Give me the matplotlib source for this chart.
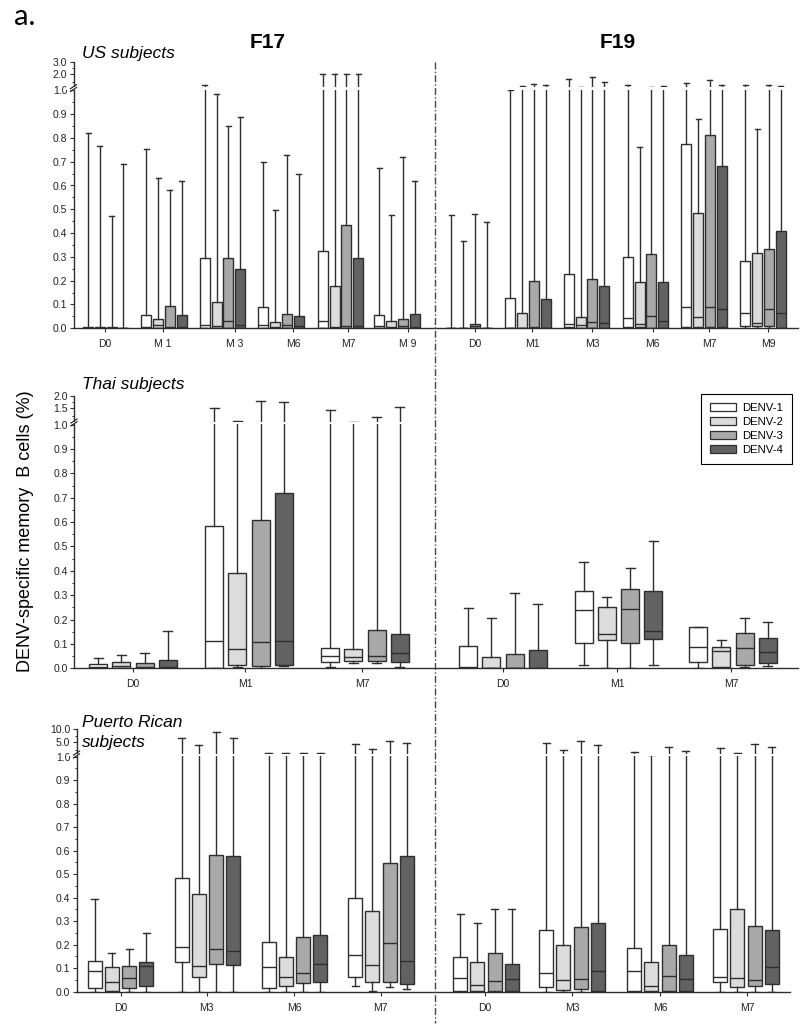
import numpy as np
import matplotlib
matplotlib.use('Agg')
import matplotlib.pyplot as plt
from matplotlib.patches import Patch
from matplotlib.lines import Line2D

plt.rcParams['font.family'] = ['Liberation Sans', 'DejaVu Sans']

FIG_W, FIG_H = 800, 1026
EDGE = '#2e2e2e'

series = ['DENV-1', 'DENV-2', 'DENV-3', 'DENV-4']
colors = ['#ffffff', '#dcdcdc', '#a9a9a9', '#626262']

# ---------------- US subjects ----------------
us_f17_labels = ['D0', 'M 1', 'M 3', 'M6', 'M7', 'M 9']
us_f17_hi = [[0.82, 0.765, 0.47, 0.69], [0.753, 0.63, 0.58, 0.62], [1.3, 0.983, 0.85, 0.887],
             [0.697, 0.497, 0.728, 0.648], [2.0, 2.0, 2.0, 2.0], [0.675, 0.478, 0.721, 0.62]]
us_f17_q3 = [[0.005, 0.004, 0.005, 0.003], [0.054, 0.039, 0.094, 0.054], [0.294, 0.112, 0.297, 0.249],
             [0.088, 0.027, 0.061, 0.052], [0.325, 0.179, 0.434, 0.295], [0.054, 0.029, 0.039, 0.060]]
us_f17_med = [[0.002, 0.002, 0.002, 0.001], [0.004, 0.013, 0.005, 0.005], [0.015, 0.010, 0.029, 0.012],
              [0.015, 0.004, 0.012, 0.010], [0.029, 0.005, 0.010, 0.010], [0.010, 0.004, 0.010, 0.005]]
us_f17_q1 = [[0.001] * 4, [0.001] * 4, [0.002] * 4, [0.002] * 4, [0.002] * 4, [0.002] * 4]
us_f17_lo = [[0.0] * 4 for _ in range(6)]

us_f19_labels = ['D0', 'M1', 'M3', 'M6', 'M7', 'M9']
us_f19_hi = [[0.476, 0.368, 0.48, 0.448], [1.0, 1.25, 1.42, 1.36], [1.73, 1.2, 1.85, 1.52],
             [1.31, 0.763, 1.2, 1.27], [1.46, 0.88, 1.62, 1.36], [1.31, 0.837, 1.36, 1.25]]
us_f19_q3 = [[0.003, 0.001, 0.018, 0.001], [0.129, 0.066, 0.199, 0.122], [0.228, 0.049, 0.206, 0.179],
             [0.301, 0.193, 0.311, 0.193], [0.774, 0.486, 0.812, 0.682], [0.284, 0.318, 0.332, 0.41]]
us_f19_med = [[0.001, 0.0005, 0.008, 0.0005], [0.003, 0.003, 0.004, 0.003], [0.018, 0.012, 0.028, 0.021],
              [0.042, 0.018, 0.052, 0.032], [0.091, 0.049, 0.088, 0.080], [0.066, 0.021, 0.080, 0.066]]
us_f19_q1 = [[0.0] * 4, [0.001] * 4, [0.004, 0.003, 0.003, 0.002], [0.004, 0.004, 0.003, 0.002],
             [0.006, 0.006, 0.005, 0.005], [0.010, 0.010, 0.010, 0.002]]
us_f19_lo = [[0.0] * 4 for _ in range(6)]

# ---------------- Thai subjects ----------------
th_f17_labels = ['D0', 'M1', 'M7']
th_f17_hi = [[0.041, 0.055, 0.064, 0.154], [1.53, 1.1, 1.8, 1.74], [1.46, 1.08, 1.22, 1.56]]
th_f17_q3 = [[0.018, 0.027, 0.020, 0.034], [0.584, 0.39, 0.608, 0.718], [0.085, 0.078, 0.157, 0.139]]
th_f17_med = [[0.005, 0.008, 0.005, 0.005], [0.112, 0.078, 0.107, 0.112], [0.052, 0.048, 0.052, 0.061]]
th_f17_q1 = [[0.001] * 4, [0.003, 0.013, 0.008, 0.013], [0.027, 0.03, 0.03, 0.027]]
th_f17_lo = [[0.0] * 4, [0.0, 0.005, 0.002, 0.008], [0.007, 0.02, 0.02, 0.007]]

th_f19_labels = ['D0', 'M1', 'M7']
th_f19_hi = [[0.246, 0.207, 0.31, 0.263], [0.435, 0.291, 0.41, 0.523], [0.171, 0.116, 0.207, 0.188]]
th_f19_q3 = [[0.091, 0.048, 0.059, 0.076], [0.318, 0.25, 0.324, 0.318], [0.168, 0.088, 0.143, 0.123]]
th_f19_med = [[0.007, 0.003, 0.002, 0.002], [0.239, 0.139, 0.243, 0.153], [0.089, 0.071, 0.085, 0.068]]
th_f19_q1 = [[0.002, 0.002, 0.001, 0.001], [0.103, 0.116, 0.103, 0.12], [0.025, 0.005, 0.014, 0.023]]
th_f19_lo = [[0.0] * 4, [0.014, 0.002, 0.0, 0.014], [0.002, 0.002, 0.005, 0.01]]

# ---------------- Puerto Rican subjects ----------------
pr_f17_labels = ['D0', 'M3', 'M6', 'M7']
pr_f17_hi = [[0.395, 0.163, 0.18, 0.251], [6.8, 4.2, 8.8, 6.5], [2.1, 2.1, 2.1, 2.1], [4.5, 3.2, 5.6, 4.9]]
pr_f17_q3 = [[0.13, 0.106, 0.109, 0.125], [0.482, 0.416, 0.582, 0.577], [0.21, 0.149, 0.231, 0.241],
             [0.397, 0.344, 0.549, 0.576]]
pr_f17_med = [[0.088, 0.043, 0.06, 0.109], [0.189, 0.109, 0.18, 0.174], [0.106, 0.061, 0.081, 0.116],
              [0.155, 0.113, 0.206, 0.13]]
pr_f17_q1 = [[0.014, 0.005, 0.015, 0.024], [0.128, 0.061, 0.12, 0.113], [0.015, 0.026, 0.036, 0.043],
             [0.064, 0.043, 0.04, 0.033]]
pr_f17_lo = [[0.0] * 4, [0.0] * 4, [0.0] * 4, [0.026, 0.002, 0.021, 0.01]]

pr_f19_labels = ['D0', 'M3', 'M6', 'M7']
pr_f19_hi = [[0.33, 0.294, 0.352, 0.352], [4.7, 2.8, 5.6, 4.2], [2.4, 1.6, 3.6, 2.6], [3.5, 2.1, 4.4, 3.6]]
pr_f19_q3 = [[0.149, 0.128, 0.166, 0.12], [0.262, 0.2, 0.274, 0.291], [0.186, 0.125, 0.197, 0.155],
             [0.266, 0.35, 0.278, 0.261]]
pr_f19_med = [[0.06, 0.028, 0.047, 0.054], [0.08, 0.05, 0.052, 0.088], [0.09, 0.024, 0.067, 0.052],
              [0.064, 0.06, 0.05, 0.104]]
pr_f19_q1 = [[0.002, 0.005, 0.001, 0.005], [0.02, 0.008, 0.01, 0.005], [0.005, 0.002, 0.001, 0.001],
             [0.04, 0.019, 0.026, 0.033]]
pr_f19_lo = [[0.0] * 4 for _ in range(4)]

# ---------------- layout (pixel-like units) ----------------
panels = [
    dict(rect=(73.5, 62.3, 798, 328.3), unit=238.0, upper_vals=[2.0, 3.0], upper_px=[16.0, 28.0],
         major=[0.0, 0.1, 0.2, 0.3, 0.4, 0.5, 0.6, 0.7, 0.8, 0.9, 1.0, 2.0, 3.0],
         minor=list(np.arange(0.05, 1.0, 0.1)) + [1.5, 2.5],
         spacing=11.7, width=10.0,
         halves=[dict(labels=us_f17_labels, centers=[105.7, 164, 222.5, 281, 340.5, 397],
                      ticks=[105, 163, 234.5, 293, 348, 408],
                      hi=us_f17_hi, q3=us_f17_q3, med=us_f17_med, q1=us_f17_q1, lo=us_f17_lo),
                 dict(labels=us_f19_labels, centers=[469, 528, 586.5, 645.5, 704, 763],
                      ticks=[475, 532, 592, 652.7, 709, 768],
                      hi=us_f19_hi, q3=us_f19_q3, med=us_f19_med, q1=us_f19_q1, lo=us_f19_lo)]),
    dict(rect=(74, 396.0, 798, 668.3), unit=243.7, upper_vals=[1.5, 2.0], upper_px=[16.3, 28.6],
         major=[0.0, 0.1, 0.2, 0.3, 0.4, 0.5, 0.6, 0.7, 0.8, 0.9, 1.0, 1.5, 2.0],
         minor=list(np.arange(0.05, 1.0, 0.1)) + [1.25, 1.75],
         spacing=23.3, width=18.0,
         halves=[dict(labels=th_f17_labels, centers=[133, 249, 365], ticks=[133, 245, 362],
                      hi=th_f17_hi, q3=th_f17_q3, med=th_f17_med, q1=th_f17_q1, lo=th_f17_lo),
                 dict(labels=th_f19_labels, centers=[503, 618.5, 733], ticks=[503, 617, 731],
                      hi=th_f19_hi, q3=th_f19_q3, med=th_f19_med, q1=th_f19_q1, lo=th_f19_lo)]),
    dict(rect=(76.5, 729.3, 790, 991.7), unit=235.0, upper_vals=[5.0, 10.0], upper_px=[14.4, 27.4],
         major=[0.0, 0.1, 0.2, 0.3, 0.4, 0.5, 0.6, 0.7, 0.8, 0.9, 1.0, 5.0, 10.0],
         minor=list(np.arange(0.05, 1.0, 0.1)) + [3.0, 7.5],
         spacing=17.3, width=14.0,
         halves=[dict(labels=pr_f17_labels, centers=[120.5, 207.5, 294.5, 381], ticks=[120.7, 206.7, 294, 380.7],
                      hi=pr_f17_hi, q3=pr_f17_q3, med=pr_f17_med, q1=pr_f17_q1, lo=pr_f17_lo),
                 dict(labels=pr_f19_labels, centers=[486, 572, 660, 746], ticks=[485, 572, 660, 747],
                      hi=pr_f19_hi, q3=pr_f19_q3, med=pr_f19_med, q1=pr_f19_q1, lo=pr_f19_lo)]),
]


def fx(px):
    return px / FIG_W


def fy(py):
    return 1 - py / FIG_H


def make_funcs(upper_vals, upper_px, unit):
    kv = [-10.0, 0.0, 1.0] + list(upper_vals) + [upper_vals[-1] * 10 + 100]
    ks = [-10.0, 0.0, 1.0] + [1 + p / unit for p in upper_px]
    ks.append(ks[-1] + 1.0)
    kv = np.array(kv)
    ks = np.array(ks)

    def fwd(v):
        return np.interp(np.asarray(v, dtype=float), kv, ks)

    def inv(s):
        return np.interp(np.asarray(s, dtype=float), ks, kv)
    return fwd, inv


fig = plt.figure(figsize=(FIG_W / 100, FIG_H / 100), dpi=100)

for P in panels:
    L, T, R, B = P['rect']
    ax = fig.add_axes([fx(L), fy(B), (R - L) / FIG_W, (B - T) / FIG_H])
    fwd, inv = make_funcs(P['upper_vals'], P['upper_px'], P['unit'])
    ax.set_yscale('function', functions=(fwd, inv))
    ymax = P['upper_vals'][-1]
    ax.set_ylim(0, ymax)
    ax.set_xlim(L, R)

    tick_pos, tick_lab = [], []
    for H in P['halves']:
        for gi, c in enumerate(H['centers']):
            for k in range(4):
                st = dict(whislo=H['lo'][gi][k], q1=H['q1'][gi][k], med=H['med'][gi][k],
                          q3=H['q3'][gi][k], whishi=H['hi'][gi][k], fliers=[])
                pos = c + (k - 1.5) * P['spacing']
                ax.bxp([st], positions=[pos], widths=[P['width']], patch_artist=True,
                       showfliers=False, manage_ticks=False,
                       boxprops=dict(facecolor=colors[k], edgecolor=EDGE, linewidth=1.0),
                       medianprops=dict(color=EDGE, linewidth=1.0),
                       whiskerprops=dict(color=EDGE, linewidth=1.0),
                       capprops=dict(color=EDGE, linewidth=1.0))
        tick_pos += H['ticks']
        tick_lab += H['labels']

    ax.set_xticks(tick_pos)
    ax.set_xticklabels(tick_lab, fontsize=7.5, color='#222222')
    ax.set_yticks(P['major'])
    ax.set_yticklabels(['%.1f' % v for v in P['major']], fontsize=7.5, color='#222222')
    ax.set_yticks(P['minor'], minor=True)
    ax.tick_params(axis='y', which='major', direction='out', length=3, width=0.8, pad=1.5, color=EDGE)
    ax.tick_params(axis='y', which='minor', direction='out', length=1.6, width=0.7, color=EDGE)
    ax.tick_params(axis='x', which='major', direction='out', length=3, width=0.8, pad=5, color=EDGE)
    for s in ['top', 'right']:
        ax.spines[s].set_visible(False)
    for s in ['left', 'bottom']:
        ax.spines[s].set_color(EDGE)
        ax.spines[s].set_linewidth(1.0)

    # axis break just above 1.0
    s1 = float(fwd(1.0))
    glo = float(inv(s1 + 0.6 / P['unit']))
    ghi = float(inv(s1 + 2.8 / P['unit']))
    ax.axhspan(glo, ghi, xmin=-0.01, xmax=1.0, facecolor='white', edgecolor='none',
               zorder=6, clip_on=False)
    aw, ah = R - L, B - T
    y1 = s1 / float(fwd(ymax))
    for dy in (0.0, 2.8):
        ax.plot([-3 / aw, 3 / aw], [y1 + (-1.2 + dy) / ah, y1 + (2.8 + dy) / ah],
                transform=ax.transAxes, color=EDGE, lw=0.9, clip_on=False, zorder=7)

# separators and text
fig.add_artist(Line2D([fx(435), fx(435)], [fy(62), fy(1023)], transform=fig.transFigure,
                      color='#444444', lw=1.0, ls=(0, (5, 1.6, 1, 1.6))))

fig.text(fx(14), fy(25), 'a.', fontsize=21, family=['Lato', 'DejaVu Sans'], va='baseline', ha='left')
fig.text(fx(268), fy(48), 'F17', fontsize=15, fontweight='bold', ha='center', va='baseline')
fig.text(fx(618), fy(48), 'F19', fontsize=15, fontweight='bold', ha='center', va='baseline')
fig.text(fx(82), fy(58), 'US subjects', fontsize=12.5, style='italic', ha='left', va='baseline')
fig.text(fx(82), fy(389), 'Thai subjects', fontsize=12.5, style='italic', ha='left', va='baseline')
fig.text(fx(82), fy(727), 'Puerto Rican', fontsize=12.5, style='italic', ha='left', va='baseline')
fig.text(fx(82), fy(747.5), 'subjects', fontsize=12.5, style='italic', ha='left', va='baseline')
fig.text(fx(26), fy(531), 'DENV-specific memory  B cells (%)', fontsize=13, rotation=90,
         ha='center', va='center')

handles = [Patch(facecolor=c, edgecolor=EDGE, linewidth=0.9) for c in colors]
leg = fig.legend(handles, series, loc='upper left', bbox_to_anchor=(fx(701), fy(394)),
                 fontsize=8.2, frameon=True, fancybox=False, edgecolor='black', framealpha=1,
                 handlelength=2.3, handleheight=0.6, labelspacing=0.35, handletextpad=0.5,
                 borderpad=0.8, borderaxespad=0.0)
leg.get_frame().set_linewidth(0.8)

fig.savefig('out.png', dpi=100)
